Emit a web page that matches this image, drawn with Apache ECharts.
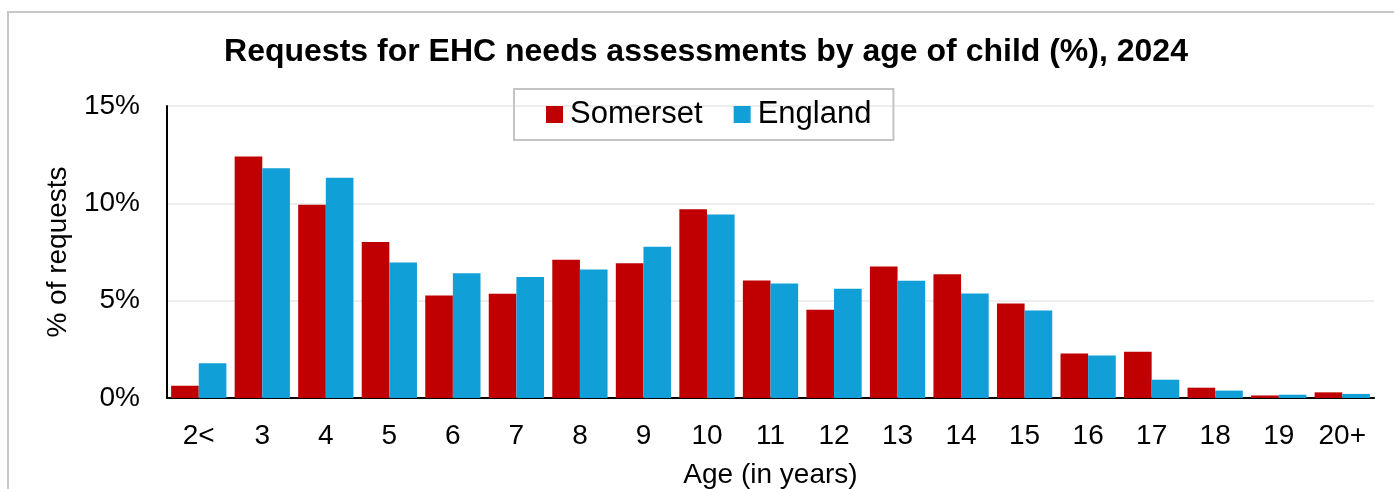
<!DOCTYPE html>
<html>
<head>
<meta charset="utf-8">
<title>Requests for EHC needs assessments by age of child</title>
<script src="https://cdn.jsdelivr.net/npm/echarts@6/dist/echarts.min.js"></script>
<style>
  html, body { margin: 0; padding: 0; background: #ffffff; }
  #chart { width: 1394px; height: 489px; }
</style>
</head>
<body>
<div id="chart"></div>
<script>
// Age groups (in years)
const ageGroups = ['2<', '3', '4', '5', '6', '7', '8', '9', '10', '11', '12', '13', '14', '15', '16', '17', '18', '19', '20+'];

// Share of EHC needs assessment requests by age (%), 2024
const somerset = [0.63, 12.41, 9.93, 8.02, 5.26, 5.35, 7.10, 6.92, 9.69, 6.03, 4.53, 6.75, 6.36, 4.85, 2.28, 2.37, 0.53, 0.13, 0.29];
const england  = [1.78, 11.80, 11.32, 6.96, 6.41, 6.22, 6.60, 7.77, 9.43, 5.88, 5.61, 6.02, 5.37, 4.49, 2.18, 0.94, 0.38, 0.17, 0.21];

// Y axis range (%)
const yMin = 0;
const yMax = 15;
const yStep = 5;

const FONT = '"Liberation Sans", Arial, sans-serif';

const chart = echarts.init(document.getElementById('chart'), null, { renderer: 'canvas' });

chart.setOption({
  backgroundColor: '#ffffff',
  animation: false,
  title: {
    text: 'Requests for EHC needs assessments by age of child (%), 2024',
    left: 706,
    textAlign: 'center',
    top: 36,
    padding: 0,
    textStyle: { fontFamily: FONT, fontSize: 32, fontWeight: 'bold', color: '#000000' }
  },
  legend: {
    data: ['Somerset', 'England'],
    left: 514,
    top: 89,
    padding: [10, 22, 10, 32],
    borderColor: '#c4c4c4',
    borderWidth: 2,
    itemWidth: 17,
    itemHeight: 17,
    itemGap: 31,
    icon: 'rect',
    textStyle: { fontFamily: FONT, fontSize: 31, color: '#000000', padding: [0, 0, 0, 2] }
  },
  grid: {
    left: 167,
    right: 20,
    top: 106,
    bottom: 91,
    containLabel: false,
    outerBoundsMode: 'none'
  },
  xAxis: {
    type: 'category',
    data: ageGroups,
    name: 'Age (in years)',
    nameLocation: 'middle',
    nameGap: 63,
    nameTextStyle: { fontFamily: FONT, fontSize: 28, color: '#000000' },
    axisLine: { show: true, lineStyle: { color: '#000000', width: 2 } },
    axisTick: { show: false },
    axisLabel: { interval: 0, margin: 24, fontFamily: FONT, fontSize: 28, color: '#000000' }
  },
  yAxis: {
    type: 'value',
    min: yMin,
    max: yMax,
    interval: yStep,
    name: '% of requests',
    nameLocation: 'middle',
    nameGap: 95,
    nameTextStyle: { fontFamily: FONT, fontSize: 28, color: '#000000' },
    axisLine: { show: true, lineStyle: { color: '#000000', width: 2 } },
    axisTick: { show: false },
    axisLabel: { margin: 27, fontFamily: FONT, fontSize: 28, color: '#000000', formatter: '{value}%' },
    splitLine: { show: true, lineStyle: { color: '#eeeeee', width: 2 } }
  },
  series: [
    {
      name: 'Somerset',
      type: 'bar',
      data: somerset,
      barGap: '0%',
      barCategoryGap: '13%',
      itemStyle: { color: '#C00000' }
    },
    {
      name: 'England',
      type: 'bar',
      data: england,
      barGap: '0%',
      barCategoryGap: '13%',
      itemStyle: { color: '#119FD7' }
    }
  ],
  graphic: [
    {
      type: 'rect',
      silent: true,
      z: -10,
      shape: { x: 8, y: 12, width: 1400, height: 500 },
      style: { fill: 'none', stroke: '#c8c8c8', lineWidth: 2 }
    }
  ]
});
</script>
</body>
</html>
